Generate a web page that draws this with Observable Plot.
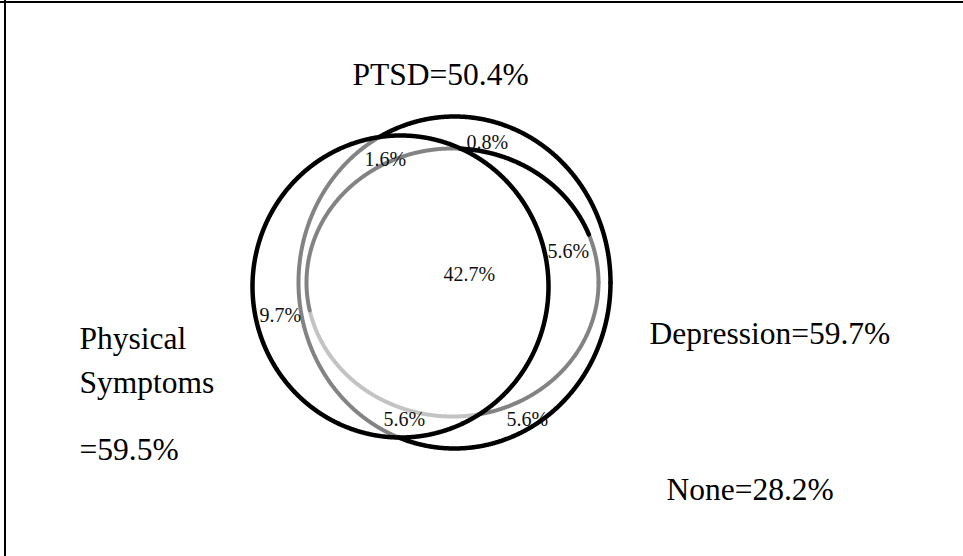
<!DOCTYPE html>
<html>
<head>
<meta charset="utf-8">
<script src="https://cdn.jsdelivr.net/npm/d3@7"></script>
<script src="https://cdn.jsdelivr.net/npm/@observablehq/plot@0.6"></script>
<style>
  html, body { margin: 0; padding: 0; background: #fff; }
  #chart svg { display: block; }
  #chart svg text { font-family: "Liberation Serif", "Times New Roman", serif; }
</style>
</head>
<body>
<div id="chart"></div>
<script>
// ---------- data ----------
const setNames = ["PTSD", "Depression", "Physical Symptoms", "None"];
const setTotals = [50.4, 59.7, 59.5, 28.2];
const regionNames = ["All three", "Physical only", "Physical & Depression (upper)", "Depression (upper)",
                     "Depression & PTSD", "Physical & Depression (lower)", "Depression (lower)"];
const regionValues = [42.7, 9.7, 1.6, 0.8, 5.6, 5.6, 5.6];

// ---------- layout (diagram geometry, in layout units) ----------
const circleLayout = [
  {set: "Physical Symptoms", cx: 400, cy: 286, rx: 148, ry: 151},
  {set: "Depression",        cx: 454, cy: 282, rx: 156, ry: 166},
  {set: "PTSD",              cx: 452, cy: 282, rx: 146, ry: 134}
];
const regionLabelPos = [[443, 280], [259, 321], [364, 165], [466, 148], [547, 257], [383, 425], [506, 425]];
const setLabelPos = {
  "PTSD": [[352, 84]],
  "Depression": [[649, 343]],
  "Physical Symptoms": [[79, 348], [79, 392], [79, 459]],
  "None": [[666, 499]]
};
const BLACK = "#000000", GREY = "#838383", LIGHT = "#c3c3c3";

// ---------- geometry helpers ----------
const byName = Object.fromEntries(circleLayout.map(c => [c.set, c]));
function pointAt(c, deg) {
  const t = deg * Math.PI / 180;
  return [c.cx + c.rx * Math.cos(t), c.cy + c.ry * Math.sin(t)];
}
function inside(c, x, y) {
  return ((x - c.cx) / c.rx) ** 2 + ((y - c.cy) / c.ry) ** 2 < 1;
}
function strokeColor(c, deg, x, y) {
  if (c.set === "Physical Symptoms") return BLACK;
  if (c.set === "Depression") return inside(byName["Physical Symptoms"], x, y) ? GREY : BLACK;
  // PTSD outline
  if (deg >= 273 && deg <= 339) return BLACK;
  if (deg >= 78 && deg <= 168) return LIGHT;
  return GREY;
}

const N = 1440;
const outlineRows = [];
for (const c of circleLayout) {
  let run = -1, prev = null;
  for (let i = 0; i < N; i++) {
    const d0 = i * 360 / N, d1 = (i + 1) * 360 / N, dm = (d0 + d1) / 2;
    const [mx, my] = pointAt(c, dm);
    const col = strokeColor(c, dm, mx, my);
    const [x0, y0] = pointAt(c, d0);
    const [x1, y1] = pointAt(c, d1);
    if (col !== prev) {
      run++;
      outlineRows.push({x: x0, y: y0, seg: c.set + "-" + run, color: col});
      prev = col;
    }
    outlineRows.push({x: x1, y: y1, seg: c.set + "-" + run, color: col});
  }
}

// ---------- text rows ----------
const fmt = v => v.toFixed(1) + "%";
const regionRows = regionValues.map((v, i) => ({
  name: regionNames[i], label: fmt(v), x: regionLabelPos[i][0], y: regionLabelPos[i][1]
}));
const setRows = [];
setNames.forEach((name, i) => {
  const pos = setLabelPos[name];
  let lines;
  if (pos.length === 3) {
    const words = name.split(" ");
    lines = [words[0], words[1], "=" + fmt(setTotals[i])];
  } else {
    lines = [name + "=" + fmt(setTotals[i])];
  }
  lines.forEach((t, j) => setRows.push({label: t, x: pos[j][0], y: pos[j][1]}));
});

const font = "Liberation Serif";

const chart = Plot.plot({
  width: 963,
  height: 556,
  margin: 0,
  x: {domain: [0, 963], range: [0, 963], axis: null},
  y: {domain: [0, 556], range: [0, 556], axis: null},
  style: {background: "#fff"},
  marks: [
    Plot.ruleY([1.5], {stroke: "#000", strokeWidth: 2}),
    Plot.ruleX([4.5], {stroke: "#000", strokeWidth: 2}),
    Plot.line(outlineRows.filter(d => d.color === LIGHT), {x: "x", y: "y", z: "seg", stroke: LIGHT, strokeWidth: 4, strokeLinejoin: "round"}),
    Plot.line(outlineRows.filter(d => d.color === GREY), {x: "x", y: "y", z: "seg", stroke: GREY, strokeWidth: 4, strokeLinejoin: "round"}),
    Plot.line(outlineRows.filter(d => d.color === BLACK), {x: "x", y: "y", z: "seg", stroke: BLACK, strokeWidth: 4.5, strokeLinejoin: "round"}),
    Plot.text(regionRows, {x: "x", y: "y", text: "label", textAnchor: "start", lineAnchor: "bottom", fontSize: 20, fontFamily: font, fill: "#111"}),
    Plot.text(setRows, {x: "x", y: "y", text: "label", textAnchor: "start", lineAnchor: "bottom", fontSize: 31.5, fontFamily: font, fill: "#000"})
  ]
});
document.getElementById("chart").appendChild(chart);
</script>
</body>
</html>
